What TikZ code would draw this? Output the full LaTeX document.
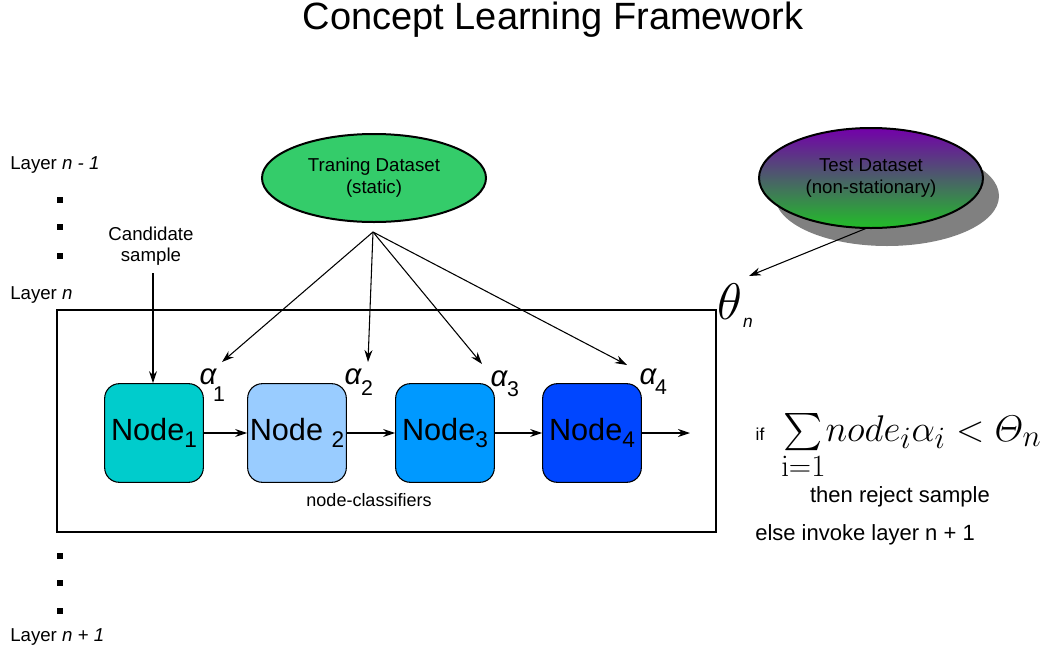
\documentclass[tikz,border=0pt]{standalone}
\usepackage{amsmath}
\usepackage{graphicx}
\usepackage[no-math]{fontspec}
\setmainfont{Liberation Sans}
\usetikzlibrary{shapes.geometric,arrows.meta,shadows}
\definecolor{traingreen}{RGB}{52,204,106}
\definecolor{testpurple}{RGB}{115,0,170}
\definecolor{testgreen}{RGB}{34,190,40}
\definecolor{nodeA}{RGB}{0,204,204}
\definecolor{nodeB}{RGB}{153,204,255}
\definecolor{nodeC}{RGB}{0,153,255}
\definecolor{nodeD}{RGB}{0,70,255}
\tikzset{
  lbl/.style={inner sep=0pt, font=\fontsize{14}{16}\selectfont},
  dataset/.style={ellipse, draw=black, line width=1.5pt, minimum width=168pt, minimum height=66pt, align=center, font=\fontsize{14}{16.5}\selectfont, inner sep=0pt},
  clf/.style={draw=black, line width=0.8pt, rounded corners=11pt, minimum width=74pt, minimum height=74pt, inner sep=0pt, font=\fontsize{23}{24}\selectfont},
  arr/.style={-{Stealth[length=9pt,width=6pt]}, line width=0.8pt},
  alph/.style={inner sep=0pt, font=\fontsize{22}{24}\selectfont\itshape},
  sub/.style={inner sep=0pt, font=\fontsize{16}{16}\selectfont},
  dot/.style={fill=black, minimum size=4.5pt, inner sep=0pt},
}
\begin{document}
\begin{tikzpicture}[x=0.75pt,y=-0.75pt]
\useasboundingbox (0,0) rectangle (1040,651);
% title
\node[inner sep=0pt, font=\fontsize{28.5}{30}\selectfont] (title) at (553,20) {Concept Learning Framework};
% layer labels
\node[lbl, anchor=west] (ln1) at (10,165) {Layer \textit{n - 1}};
\node[dot] (d1) at (60,200) {};
\node[dot] (d2) at (60,227) {};
\node[dot] (d3) at (60,256) {};
\node[lbl, anchor=west] (ln) at (10,295) {Layer \textit{n}};
\node[dot] (d4) at (60,556) {};
\node[dot] (d5) at (60,583) {};
\node[dot] (d6) at (60,611) {};
\node[lbl, anchor=west] (lnp) at (10,637) {Layer \textit{n + 1}};
% layer box
\node[draw=black, line width=1.5pt, minimum width=494pt, minimum height=166pt, inner sep=0pt] (box) at (386.5,421) {};
% datasets
\node[dataset, fill=traingreen] (train) at (374,178) {Traning Dataset\\(static)};
\node[dataset, draw=none, fill=black!50, minimum height=75pt] (shadow) at (887,196) {};
\node[dataset, top color=testpurple, bottom color=testgreen, minimum height=75pt] (test) at (871,178) {Test Dataset\\(non-stationary)};
% theta
\node[inner sep=0pt, font=\fontsize{24.88}{26}\selectfont] (theta) at (730,302) {\scalebox{1.55}{$\theta$}};
\node[inner sep=0pt, font=\fontsize{13}{14}\selectfont\itshape] (thetan) at (748,323) {n};
\coordinate (tstart) at (867,228);
\coordinate (tharr) at (749,276);
\draw[arr] (tstart) -- (tharr);
% candidate
\node[lbl, align=center] (cand) at (151,246) {Candidate\\sample};
% nodes
\node[clf, fill=nodeA] (n1) at (154,433) {Node\raisebox{-0.45ex}{\fontsize{17}{17}\selectfont 1}};
\node[clf, fill=nodeB] (n2) at (297,433) {Node \raisebox{-0.45ex}{\fontsize{17}{17}\selectfont 2}};
\node[clf, fill=nodeC] (n3) at (445,433) {Node\raisebox{-0.45ex}{\fontsize{17}{17}\selectfont 3}};
\node[clf, fill=nodeD] (n4) at (592,433) {Node\raisebox{-0.45ex}{\fontsize{17}{17}\selectfont 4}};
\coordinate (out) at (690,433);
\coordinate (cs) at (153,273);
\draw[arr] (cs) -- (cs |- n1.north);
\draw[arr] (n1) -- (n2);
\draw[arr] (n2) -- (n3);
\draw[arr] (n3) -- (n4);
\draw[arr] (n4) -- (out);
\node[lbl, font=\fontsize{13.5}{15}\selectfont] (ncl) at (369,500) {node-classifiers};
% alphas
\node[alph] (a1) at (208,377) {α};
\node[sub] (a1s) at (219,394) {1};
\node[alph] (a2) at (353,377) {α};
\node[sub] (a2s) at (367,388) {2};
\node[alph] (a3) at (499,379) {α};
\node[sub] (a3s) at (513,389) {3};
\node[alph] (a4) at (648,377) {α};
\node[sub] (a4s) at (661,387) {4};
% training arrows
\coordinate (tr) at (373,232);
\coordinate (t1) at (222,362);
\coordinate (t2) at (368,362);
\coordinate (t3) at (482,364);
\coordinate (t4) at (627,365);
\draw[arr] (tr) -- (t1);
\draw[arr] (tr) -- (t2);
\draw[arr] (tr) -- (t3);
\draw[arr] (tr) -- (t4);
% rule
\node[lbl, font=\fontsize{13}{14}\selectfont] (if) at (760,434) {if};
\node[inner sep=0pt, anchor=west, font=\fontsize{24.88}{26}\selectfont] (formula) at (781,447) {\scalebox{1.12}{$\sum\limits_{\mathrm{i=1}}\!node_i\alpha_i < \varTheta_n$}};
\node[lbl, font=\fontsize{16.5}{18}\selectfont] (rej) at (900,497) {then reject sample};
\node[lbl, anchor=west, font=\fontsize{16.5}{18}\selectfont] (els) at (755,535) {else invoke layer n + 1};
\end{tikzpicture}
\end{document}
